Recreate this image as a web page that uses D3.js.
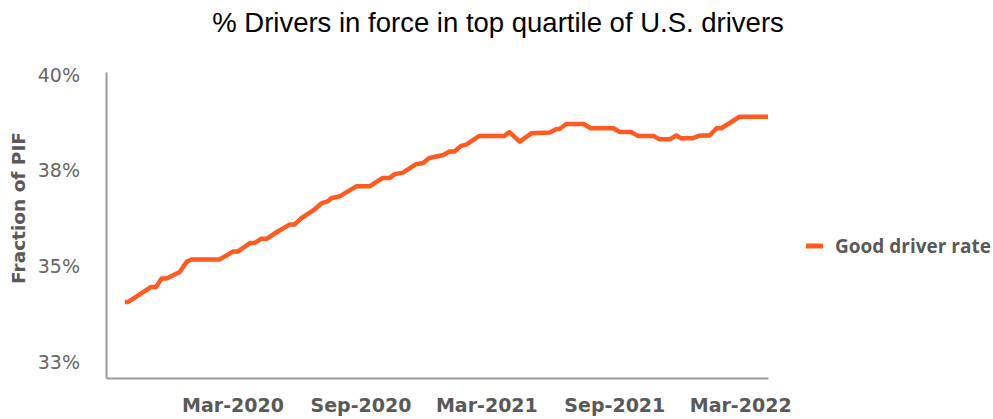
<!DOCTYPE html>
<html>
<head>
<meta charset="utf-8">
<script src="https://cdn.jsdelivr.net/npm/d3@7"></script>
<style>
  body { margin: 0; background: #fff; }
</style>
</head>
<body>
<div id="chart"></div>
<script>
// weekly-ish readings of the good driver rate (fraction of PIF)
var dates = ["2019-09-28","2019-10-03","2019-11-05","2019-11-12","2019-11-20","2019-11-27","2019-12-16","2019-12-26",
  "2020-01-02","2020-02-11","2020-02-19","2020-03-02","2020-03-09","2020-03-26","2020-04-02","2020-04-11","2020-04-19",
  "2020-05-05","2020-05-22","2020-05-29","2020-06-08","2020-06-25","2020-07-07","2020-07-16","2020-07-21","2020-08-02",
  "2020-08-26","2020-09-14","2020-10-03","2020-10-13","2020-10-20","2020-11-01","2020-11-20","2020-11-30","2020-12-09",
  "2020-12-29","2021-01-07","2021-01-14","2021-01-24","2021-01-31","2021-02-19","2021-03-27","2021-04-03","2021-04-18",
  "2021-05-05","2021-05-31","2021-06-10","2021-06-14","2021-06-24","2021-07-19","2021-07-29","2021-08-31","2021-09-09",
  "2021-09-25","2021-10-05","2021-10-27","2021-11-05","2021-11-20","2021-11-29","2021-12-06","2021-12-23","2022-01-02",
  "2022-01-16","2022-01-26","2022-02-02","2022-02-28","2022-04-10"];
var goodDriverRate = [33.99,33.99,34.38,34.38,34.60,34.60,34.77,35.04,
  35.10,35.10,35.18,35.31,35.31,35.53,35.53,35.64,35.64,
  35.83,36.01,36.01,36.18,36.38,36.57,36.62,36.70,36.75,
  37.01,37.01,37.23,37.23,37.33,37.37,37.59,37.62,37.75,
  37.83,37.92,37.92,38.07,38.10,38.33,38.33,38.43,38.18,
  38.40,38.42,38.51,38.51,38.64,38.64,38.53,38.53,38.43,
  38.43,38.33,38.33,38.24,38.24,38.34,38.27,38.27,38.34,
  38.34,38.53,38.53,38.83,38.83];
var yTicks = [32.5, 35, 37.5, 40];
var xTicks = ["2020-03-01","2020-09-01","2021-03-01","2021-09-01","2022-03-01"];
var seriesName = "Good driver rate";

var parse = d3.timeParse("%Y-%m-%d");
var data = dates.map(function(d, i) { return {date: parse(d), value: goodDriverRate[i] / 100}; });

var width = 993, height = 419;
var margin = {top: 72, right: 225, bottom: 41, left: 106};

var svg = d3.select("#chart").append("svg")
    .attr("width", width)
    .attr("height", height);

var x = d3.scaleTime()
    .domain([parse("2019-09-01"), parse("2022-04-10")])
    .range([margin.left, width - margin.right]);

var y = d3.scaleLinear()
    .domain([0.32, 0.40])
    .range([height - margin.bottom, margin.top]);

// title
svg.append("text")
    .attr("x", 498)
    .attr("y", 32)
    .attr("text-anchor", "middle")
    .style("font-family", "Liberation Sans, Arial, sans-serif")
    .style("font-size", "27.5px")
    .style("fill", "#000")
    .text("% Drivers in force in top quartile of U.S. drivers");

// axes
var yAxis = svg.append("g")
    .attr("transform", "translate(" + margin.left + ",0)")
    .call(d3.axisLeft(y).tickValues(yTicks.map(function(t) { return t / 100; }))
        .tickFormat(d3.format(".0%")).tickSize(0).tickPadding(26));
yAxis.select(".domain").attr("stroke", "#9a9a9a").attr("stroke-width", 2);
yAxis.selectAll("text")
    .attr("dy", "0.48em")
    .style("font-family", "DejaVu Sans, sans-serif")
    .style("font-size", "19px")
    .style("fill", "#666");

var xAxis = svg.append("g")
    .attr("transform", "translate(0," + (height - margin.bottom) + ")")
    .call(d3.axisBottom(x).tickValues(xTicks.map(parse))
        .tickFormat(d3.timeFormat("%b-%Y")).tickSize(0).tickPadding(21));
xAxis.select(".domain").attr("stroke", "#9a9a9a").attr("stroke-width", 2);
xAxis.selectAll("text")
    .style("font-family", "DejaVu Sans, sans-serif")
    .style("font-weight", "bold")
    .style("font-size", "19px")
    .style("fill", "#595959");

// y axis title
svg.append("text")
    .attr("transform", "translate(25,208) rotate(-90)")
    .attr("text-anchor", "middle")
    .style("font-family", "DejaVu Sans, sans-serif")
    .style("font-weight", "bold")
    .style("font-size", "18.5px")
    .style("fill", "#595959")
    .text("Fraction of PIF");

// the line
var line = d3.line()
    .x(function(d) { return x(d.date); })
    .y(function(d) { return y(d.value); });

svg.append("path")
    .datum(data)
    .attr("d", line)
    .attr("fill", "none")
    .attr("stroke", "#ff5a1f")
    .attr("stroke-width", 4.5)
    .attr("stroke-linejoin", "round");

// legend
var legend = svg.append("g").attr("transform", "translate(806,246)");
legend.append("line")
    .attr("x1", 0).attr("x2", 17)
    .attr("stroke", "#ff5a1f")
    .attr("stroke-width", 5);
legend.append("text")
    .attr("x", 29)
    .attr("dy", "0.35em")
    .style("font-family", "Open Sans, sans-serif")
    .style("font-weight", "bold")
    .style("font-size", "19px")
    .style("fill", "#595959")
    .text(seriesName);
</script>
</body>
</html>
